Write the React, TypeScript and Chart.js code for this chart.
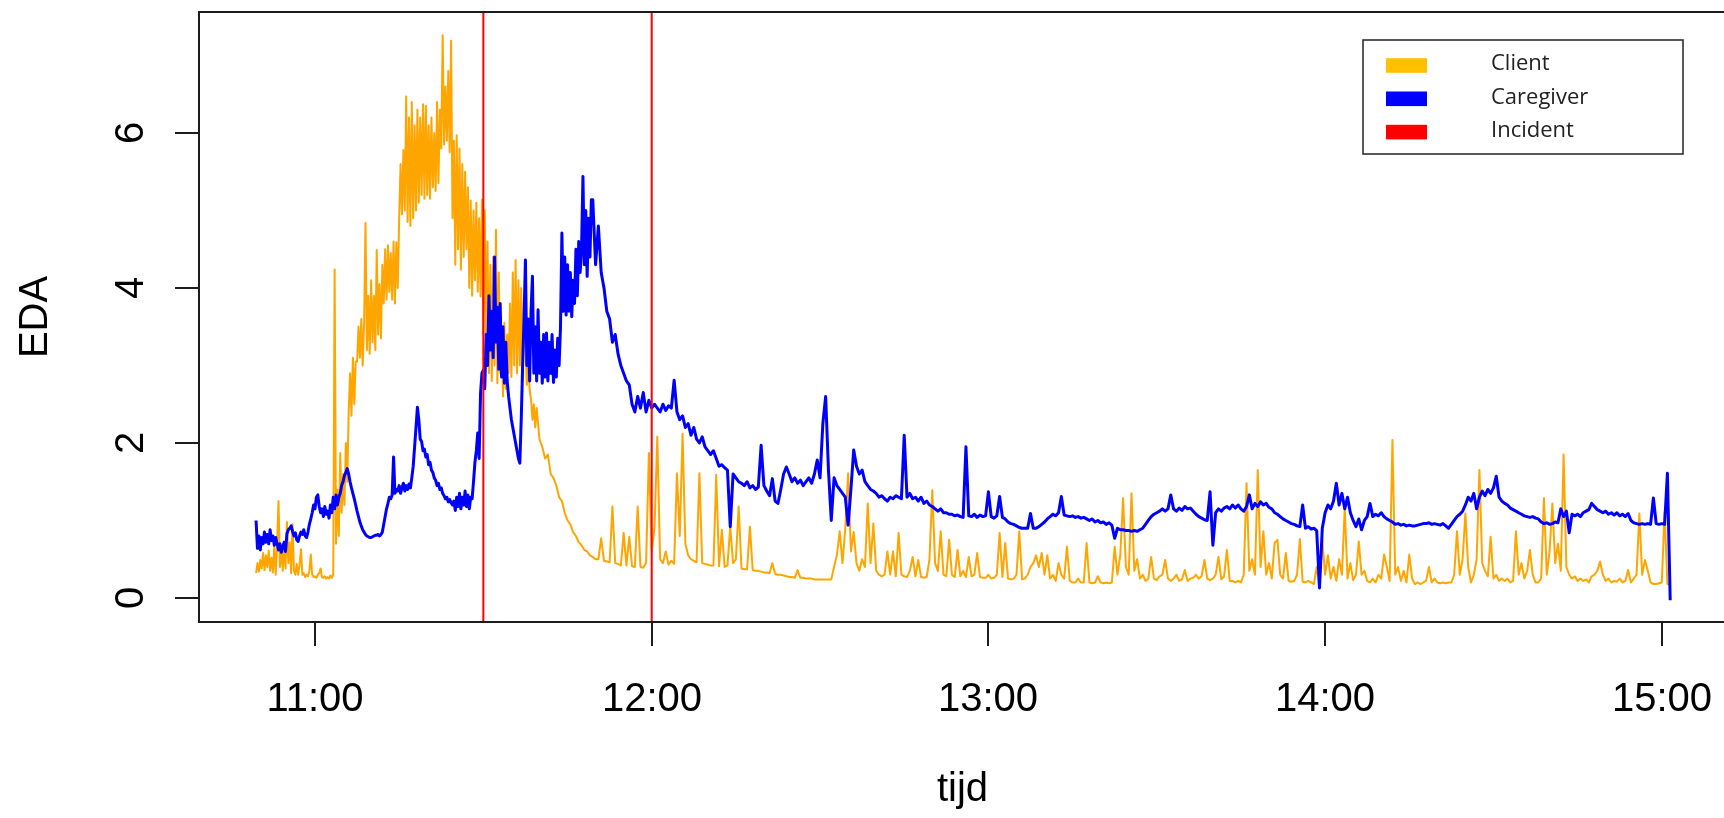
import React, { useEffect, useRef } from "react";
import { Chart, registerables } from "chart.js";

Chart.register(...registerables);

// time axis: minutes since midnight (11:00 = 660)
// early, busy part sampled every quarter minute; the rest every half minute
const CLIENT_DENSE_START = 649.5;
const CLIENT_SPARSE_START = 699.5;
const CAREGIVER_DENSE_START = 649.5;
const CAREGIVER_SPARSE_START = 709.5;
const DENSE_STEP = 0.25;
const SPARSE_STEP = 0.5;

const clientDense = [
  0.32,0.45,0.34,0.49,0.38,0.58,0.36,0.55,
  0.4,0.61,0.35,0.52,0.33,0.68,0.3,0.72,
  1.25,0.4,0.62,0.35,0.7,0.38,0.98,0.45,
  0.72,0.32,0.95,0.35,0.3,0.44,0.3,0.42,
  0.63,0.3,0.32,0.27,0.3,0.28,0.35,0.56,
  0.3,0.27,0.28,0.26,0.3,0.32,0.38,0.27,
  0.26,0.28,0.25,0.27,0.25,0.29,0.26,0.3,
  4.24,0.7,1.4,0.8,1.87,1.1,1.6,1.2,
  2.0,1.5,2.4,2.9,2.35,3.1,2.5,3.05,
  3.05,3.5,3.1,3.6,3.0,3.55,4.84,3.2,
  3.9,3.15,4.1,3.3,3.9,3.2,4.49,3.4,
  4.05,3.35,4.3,3.8,4.5,3.85,4.55,3.95,
  4.45,3.85,4.6,3.8,4.59,4.0,4.9,5.6,
  4.95,5.78,5.0,6.47,4.85,6.2,4.8,6.4,
  4.9,6.1,5.0,6.3,5.1,6.2,5.2,6.37,
  5.15,6.35,5.2,6.1,5.15,6.2,5.3,6.0,
  5.25,6.4,5.35,6.3,5.8,7.26,5.85,6.6,
  5.9,6.8,5.75,7.19,4.9,5.9,4.3,5.97,
  4.5,5.8,4.24,5.6,4.4,5.5,4.5,5.3,
  4.0,5.13,3.9,5.0,4.1,5.1,3.95,4.9,
  3.89,5.14,3.4,5.0,3.29,4.6,2.9,4.3,
  2.8,4.4,3.0,4.75,2.77,4.2,2.9,3.5,
  2.6,3.55,2.7,3.4,2.9,3.8,2.85,4.2,
  3.0,4.36,2.9,4.1,3.0,4.0,2.8,3.9,
  3.24,2.75,3.1,2.69,2.56,2.3,2.5,2.2,
];

const clientSparse = [
  2.45,2.05,1.95,1.8,1.85,1.6,1.55,1.45,1.3,1.25,
  1.1,1.0,0.95,0.85,0.8,0.72,0.68,0.62,0.6,0.55,
  0.53,0.5,0.5,0.77,0.48,0.47,0.46,1.18,0.45,0.44,
  0.42,0.84,0.42,0.79,0.41,0.4,1.18,0.4,0.39,0.45,
  1.87,0.6,0.9,2.08,0.5,0.45,0.6,0.43,0.48,0.44,
  1.61,0.8,2.12,0.7,0.55,0.5,0.48,0.46,1.61,0.45,
  0.44,0.43,0.42,0.42,1.59,0.41,0.88,0.4,0.42,0.92,
  0.45,0.5,1.18,0.38,0.37,0.37,0.92,0.36,0.35,0.35,
  0.34,0.33,0.33,0.32,0.45,0.31,0.3,0.3,0.29,0.28,
  0.27,0.27,0.26,0.36,0.26,0.26,0.25,0.25,0.25,0.24,
  0.24,0.24,0.24,0.24,0.24,0.24,0.4,0.55,0.86,0.45,
  0.9,1.61,0.6,0.85,0.45,0.35,0.5,0.4,1.22,0.45,
  0.96,0.35,0.3,0.28,0.3,0.6,0.3,0.6,0.28,0.84,
  0.3,0.28,0.27,0.35,0.53,0.28,0.49,0.27,0.26,0.27,
  0.5,1.39,0.45,0.35,0.86,0.3,0.28,0.75,0.3,0.27,
  0.62,0.28,0.35,0.27,0.53,0.28,0.3,0.58,0.27,0.26,
  0.26,0.3,0.25,0.26,0.3,0.84,0.27,0.71,0.25,0.24,
  0.25,0.3,0.86,0.24,0.25,0.3,0.4,0.45,0.55,0.4,
  0.58,0.3,0.55,0.25,0.3,0.22,0.45,0.3,0.25,0.66,
  0.22,0.2,0.2,0.25,0.2,0.2,0.71,0.2,0.19,0.2,
  0.28,0.2,0.19,0.2,0.19,0.2,0.66,0.3,0.55,1.29,
  0.4,0.3,1.35,0.35,0.5,0.25,0.3,0.22,0.25,0.53,
  0.25,0.23,0.28,0.3,0.49,0.25,0.22,0.25,0.3,0.22,
  0.24,0.36,0.22,0.25,0.26,0.3,0.25,0.28,0.49,0.25,
  0.23,0.25,0.3,0.53,0.24,0.28,0.62,0.22,0.22,0.2,
  0.22,0.2,0.3,1.48,0.35,0.5,0.3,1.65,0.4,0.86,
  0.3,0.45,0.25,0.71,0.75,0.3,0.25,0.58,0.22,0.21,
  0.22,0.3,0.76,0.21,0.2,0.22,0.2,0.18,0.4,0.15,
  0.75,0.3,0.55,0.25,0.4,0.22,0.5,0.3,1.16,0.25,
  0.45,0.23,0.3,0.73,0.3,0.35,0.22,0.2,0.25,0.2,
  0.3,0.25,0.56,0.4,0.22,2.04,0.3,0.4,0.22,0.35,
  0.2,0.56,0.25,0.18,0.2,0.18,0.2,0.22,0.4,0.2,
  0.25,0.2,0.19,0.2,0.19,0.2,0.2,0.3,0.86,0.3,
  0.5,1.09,0.4,0.2,0.3,0.5,1.65,0.45,0.35,0.28,
  0.79,0.25,0.3,0.22,0.25,0.22,0.25,0.2,0.22,0.86,
  0.3,0.45,0.25,0.35,0.62,0.3,0.2,0.2,0.25,1.29,
  0.3,0.6,1.22,0.45,0.7,0.35,1.85,0.4,0.3,0.25,
  0.28,0.22,0.25,0.22,0.24,0.2,0.28,0.3,0.35,0.47,
  0.3,0.22,0.25,0.2,0.22,0.21,0.25,0.2,0.22,0.36,
  0.2,0.25,0.3,1.09,0.3,0.49,0.35,0.2,0.18,0.18,
  0.19,0.2,1.11,0.18,0.17,
];

const caregiverDense = [
  1.0,0.64,0.8,0.62,0.78,0.7,0.85,0.72,
  0.82,0.7,0.88,0.74,0.8,0.68,0.78,0.7,
  0.62,0.7,0.59,0.66,0.72,0.6,0.83,0.88,
  0.9,0.93,0.86,0.8,0.84,0.75,0.73,0.8,
  0.85,0.82,0.88,0.8,0.78,0.85,0.95,1.02,
  1.1,1.2,1.15,1.3,1.33,1.18,1.1,1.15,
  1.05,1.18,1.08,1.12,1.03,1.2,1.1,1.3,
  1.15,1.33,1.2,1.3,1.35,1.45,1.5,1.58,
  1.62,1.67,1.6,1.5,1.42,1.35,1.28,1.2,
  1.12,1.05,0.98,0.93,0.88,0.85,0.82,0.8,
  0.79,0.78,0.78,0.79,0.8,0.81,0.81,0.82,
  0.8,0.82,0.85,0.95,1.05,1.15,1.22,1.3,
  1.28,1.33,1.82,1.35,1.4,1.38,1.45,1.35,
  1.42,1.48,1.38,1.45,1.4,1.47,1.42,1.55,
  1.7,1.95,2.2,2.46,2.3,2.05,2.02,1.9,
  1.92,1.82,1.85,1.72,1.75,1.65,1.62,1.55,
  1.52,1.45,1.48,1.4,1.42,1.35,1.32,1.28,
  1.3,1.24,1.27,1.23,1.2,1.25,1.13,1.3,
  1.18,1.35,1.15,1.3,1.2,1.38,1.18,1.33,
  1.15,1.3,1.28,1.5,1.75,1.9,2.13,1.8,
  2.64,2.9,2.94,2.7,3.4,3.0,3.9,3.2,
  3.7,3.1,4.4,3.3,3.75,2.95,3.8,2.85,
  3.5,2.77,3.3,2.8,2.6,2.45,2.3,2.2,
  2.1,2.0,1.9,1.8,1.74,2.3,3.0,3.6,
  4.36,3.0,3.6,2.8,3.7,4.15,2.9,3.5,
  2.8,3.72,2.9,3.3,2.77,3.4,2.85,3.42,
  2.8,3.3,2.9,3.4,2.78,3.2,2.85,3.35,
  3.0,3.5,4.71,3.7,4.4,3.65,4.3,3.7,
  4.2,3.63,4.1,3.8,4.5,3.9,4.6,4.2,
  4.5,5.44,4.3,5.0,4.15,4.9,4.4,5.14,
];

const caregiverSparse = [
  5.14,4.3,4.8,4.2,4.0,3.7,3.6,3.3,3.4,3.15,
  3.0,2.9,2.8,2.75,2.5,2.4,2.6,2.45,2.65,2.4,
  2.55,2.45,2.5,2.45,2.4,2.5,2.42,2.48,2.45,2.81,
  2.4,2.3,2.35,2.2,2.25,2.1,2.2,2.05,2.0,2.08,
  1.95,1.9,1.85,1.9,1.8,1.7,1.72,1.68,1.65,0.92,
  1.6,1.55,1.5,1.48,1.45,1.5,1.42,1.45,1.4,1.43,
  1.97,1.45,1.38,1.32,1.54,1.25,1.22,1.4,1.6,1.69,
  1.6,1.5,1.55,1.48,1.52,1.45,1.5,1.55,1.48,1.6,
  1.78,1.55,2.25,2.6,1.65,1.0,1.55,1.45,1.4,1.35,
  1.3,0.94,1.4,1.91,1.7,1.6,1.65,1.5,1.45,1.4,
  1.38,1.35,1.3,1.32,1.28,1.25,1.3,1.28,1.32,1.3,
  1.28,2.1,1.3,1.35,1.28,1.3,1.25,1.3,1.22,1.25,
  1.2,1.18,1.15,1.12,1.15,1.1,1.1,1.08,1.08,1.06,
  1.07,1.05,1.04,1.95,1.06,1.05,1.08,1.04,1.07,1.05,
  1.06,1.37,1.05,1.03,1.06,1.31,1.04,1.02,0.98,0.96,
  0.95,0.93,0.91,0.9,0.9,0.9,1.09,0.9,0.9,0.92,
  0.95,0.98,1.02,1.05,1.08,1.06,1.1,1.31,1.07,1.06,
  1.05,1.06,1.04,1.05,1.03,1.04,1.02,1.0,1.02,0.98,
  1.0,0.97,0.98,0.95,0.97,0.94,0.77,0.9,0.88,0.88,
  0.87,0.87,0.86,0.87,0.86,0.88,0.9,0.95,1.0,1.05,
  1.08,1.1,1.12,1.15,1.12,1.15,1.33,1.15,1.12,1.16,
  1.13,1.18,1.15,1.16,1.12,1.08,1.05,1.03,1.01,1.0,
  1.37,0.68,1.1,1.15,1.12,1.16,1.18,1.15,1.2,1.16,
  1.2,1.15,1.12,1.18,1.33,1.15,1.22,1.18,1.24,1.2,
  1.22,1.17,1.15,1.1,1.08,1.05,1.02,1.0,0.98,0.96,
  0.95,0.93,0.92,1.2,0.9,0.92,0.89,0.9,0.87,0.13,
  0.9,1.1,1.2,1.15,1.25,1.48,1.2,1.35,1.15,1.3,
  1.1,1.0,0.92,1.02,0.88,1.0,1.05,1.22,1.05,1.08,
  1.06,1.1,1.05,1.02,1.0,0.98,0.95,0.96,0.94,0.95,
  0.93,0.94,0.93,0.93,0.94,0.95,0.96,0.96,0.97,0.95,
  0.96,0.95,0.94,0.96,0.93,0.9,0.95,1.0,1.05,1.08,
  1.12,1.2,1.3,1.25,1.35,1.15,1.3,1.38,1.32,1.4,
  1.35,1.42,1.57,1.3,1.25,1.22,1.2,1.16,1.14,1.12,
  1.1,1.08,1.06,1.05,1.04,1.05,1.03,1.02,0.98,0.96,
  0.97,0.95,0.96,0.98,0.97,1.15,1.05,1.12,0.84,1.08,
  1.06,1.08,1.05,1.1,1.12,1.14,1.22,1.18,1.14,1.12,
  1.1,1.12,1.08,1.1,1.07,1.1,1.06,1.08,1.05,1.09,
  1.0,0.97,0.96,0.95,0.96,0.95,0.96,0.95,1.29,0.96,
  0.95,0.96,0.95,1.61,-0.03,
];

const incidentTimes = [690, 720];

const xTickValues = [660, 720, 780, 840, 900];
const xTickLabels = ["11:00", "12:00", "13:00", "14:00", "15:00"];
const yTickValues = [0, 2, 4, 6];
const yTickLabels = ["0", "2", "4", "6"];

const legendLabels = ["Client", "Caregiver", "Incident"];
const legendColors = ["#FFC000", "#0000FF", "#FF0000"];

const xTitle = "tijd";
const yTitle = "EDA";

const X_MIN = 639.33;
const X_MAX = 911.44;
const Y_MIN = -0.31;
const Y_MAX = 7.561;

const CANVAS_W = 1730;
const CANVAS_H = 818;

const AXIS_FONT = '40px "Liberation Sans", Arial, sans-serif';
const LEGEND_FONT = '22px "Open Sans", "Noto Sans", sans-serif';

const rPlotDecor = {
  id: "rPlotDecor",
  afterDraw(chart: any) {
    const { ctx, chartArea: a, scales } = chart;
    const xs = scales.x;
    const ys = scales.y;
    ctx.save();

    ctx.strokeStyle = "#1c1c1c";
    ctx.lineWidth = 2;
    ctx.strokeRect(a.left, a.top, a.right - a.left, a.bottom - a.top);

    ctx.fillStyle = "#000";
    ctx.font = AXIS_FONT;
    ctx.textAlign = "center";
    ctx.textBaseline = "alphabetic";
    xTickValues.forEach((v, i) => {
      const px = Math.round(xs.getPixelForValue(v));
      ctx.beginPath();
      ctx.moveTo(px, a.bottom);
      ctx.lineTo(px, a.bottom + 24);
      ctx.stroke();
      ctx.fillText(xTickLabels[i], px, a.bottom + 89);
    });

    yTickValues.forEach((v, i) => {
      const py = Math.round(ys.getPixelForValue(v));
      ctx.beginPath();
      ctx.moveTo(a.left, py);
      ctx.lineTo(a.left - 24, py);
      ctx.stroke();
      ctx.save();
      ctx.translate(a.left - 56, py);
      ctx.rotate(-Math.PI / 2);
      ctx.fillText(yTickLabels[i], 0, 0);
      ctx.restore();
    });

    ctx.fillText(xTitle, (a.left + a.right) / 2, a.bottom + 179);
    ctx.save();
    ctx.translate(47, (a.top + a.bottom) / 2);
    ctx.rotate(-Math.PI / 2);
    ctx.fillText(yTitle, 0, 0);
    ctx.restore();

    const lx = 1363, ly = 40, lw = 320, lh = 114;
    ctx.fillStyle = "#fff";
    ctx.fillRect(lx, ly, lw, lh);
    ctx.strokeStyle = "#222";
    ctx.lineWidth = 1.5;
    ctx.strokeRect(lx, ly, lw, lh);
    ctx.font = LEGEND_FONT;
    ctx.textAlign = "left";
    legendLabels.forEach((lab, i) => {
      const cy = 65.5 + i * 33.3;
      ctx.fillStyle = legendColors[i];
      ctx.fillRect(1386, cy - 7.3, 41, 14.6);
      ctx.fillStyle = "#222";
      ctx.fillText(lab, 1491, cy + 4.8);
    });

    ctx.restore();
  },
};

function toPoints(values: number[], start: number, step: number) {
  return values.map((v, i) => ({ x: start + i * step, y: v }));
}

function incidentPoints() {
  const pts: { x: number; y: number | null }[] = [];
  incidentTimes.forEach((t) => {
    pts.push({ x: t, y: Y_MIN - 1 });
    pts.push({ x: t, y: Y_MAX + 1 });
    pts.push({ x: t, y: null });
  });
  return pts;
}

export default function App() {
  const canvasRef = useRef<HTMLCanvasElement | null>(null);

  useEffect(() => {
    const canvas = canvasRef.current;
    if (!canvas) return;
    const clientPts = [
      ...toPoints(clientDense, CLIENT_DENSE_START, DENSE_STEP),
      ...toPoints(clientSparse, CLIENT_SPARSE_START, SPARSE_STEP),
    ];
    const caregiverPts = [
      ...toPoints(caregiverDense, CAREGIVER_DENSE_START, DENSE_STEP),
      ...toPoints(caregiverSparse, CAREGIVER_SPARSE_START, SPARSE_STEP),
    ];
    const chart = new Chart(canvas, {
      type: "line",
      data: {
        datasets: [
          {
            label: "Incident",
            data: incidentPoints() as any,
            borderColor: "#FF0000",
            borderWidth: 2,
            pointRadius: 0,
            spanGaps: false,
            order: 0,
          },
          {
            label: "Caregiver",
            data: caregiverPts,
            borderColor: "#0000FF",
            borderWidth: 3,
            borderJoinStyle: "round",
            pointRadius: 0,
            tension: 0,
            order: 1,
          },
          {
            label: "Client",
            data: clientPts,
            borderColor: "#FFA500",
            borderWidth: 2,
            borderJoinStyle: "round",
            pointRadius: 0,
            tension: 0,
            order: 2,
          },
        ],
      },
      options: {
        responsive: false,
        maintainAspectRatio: false,
        devicePixelRatio: 1,
        animation: false,
        events: [],
        layout: {
          padding: { left: 199, top: 12, right: CANVAS_W - 1726, bottom: CANVAS_H - 622 },
        },
        plugins: {
          legend: { display: false },
          tooltip: { enabled: false },
          title: { display: false },
        },
        scales: {
          x: { type: "linear", min: X_MIN, max: X_MAX, display: false },
          y: { type: "linear", min: Y_MIN, max: Y_MAX, display: false },
        },
      },
      plugins: [rPlotDecor],
    });
    return () => chart.destroy();
  }, []);

  return (
    <div
      style={{
        position: "fixed",
        left: 0,
        top: 0,
        width: 1724,
        height: 818,
        overflow: "hidden",
        background: "#fff",
      }}
    >
      <canvas
        ref={canvasRef}
        width={CANVAS_W}
        height={CANVAS_H}
        style={{ display: "block", width: CANVAS_W, height: CANVAS_H }}
      />
    </div>
  );
}
